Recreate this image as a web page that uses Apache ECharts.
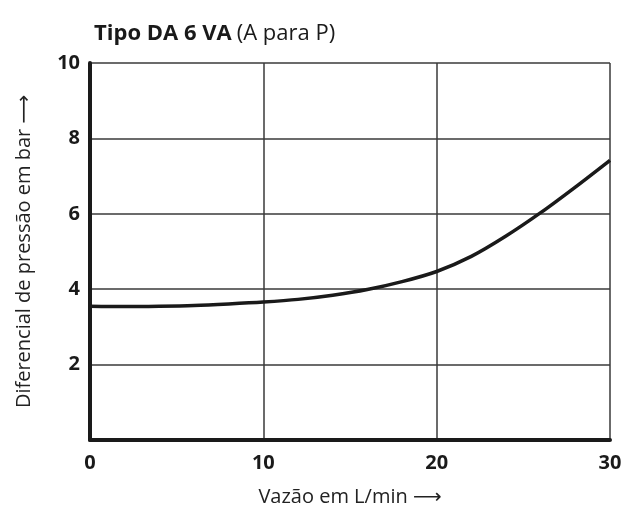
<!DOCTYPE html>
<html>
<head>
<meta charset="utf-8">
<script src="https://cdn.jsdelivr.net/npm/echarts@6/dist/echarts.min.js"></script>
<style>
  html, body { margin: 0; padding: 0; background: #fff; }
  #chart { width: 625px; height: 511px; }
</style>
</head>
<body>
<div id="chart"></div>
<script>
// Flow rate (L/min) and pressure differential (bar)
const flowRate = [0, 2, 4, 6, 8, 10, 12, 14, 16, 18, 20, 22, 24, 26, 28, 30];
const pressureDiff = [3.55, 3.54, 3.55, 3.57, 3.61, 3.66, 3.73, 3.84, 3.99, 4.20, 4.47, 4.87, 5.41, 6.03, 6.71, 7.42];
const xTicks = [0, 10, 20, 30];
const yTicks = [2, 4, 6, 8, 10];

const font = '"Open Sans", "DejaVu Sans", sans-serif';
const chart = echarts.init(document.getElementById('chart'));

chart.setOption({
  animation: false,
  backgroundColor: '#ffffff',
  title: {
    text: '{b|Tipo DA 6 VA} {r|(A para P)}',
    left: 89,
    top: 18,
    textStyle: {
      rich: {
        b: { fontFamily: font, fontWeight: 'bold', fontSize: 22, color: '#1a1a1a' },
        r: { fontFamily: font, fontWeight: 'normal', fontSize: 22, color: '#1a1a1a' }
      }
    }
  },
  grid: { left: 90, right: 15, top: 63, bottom: 71, outerBoundsMode: 'none', containLabel: false },
  xAxis: {
    type: 'value',
    min: 0, max: 30, interval: 10,
    name: 'Vazão em L/min ⟶',
    nameLocation: 'middle',
    nameGap: 47,
    nameTextStyle: { fontFamily: font, fontSize: 20, color: '#222' },
    axisLine: { show: true, onZero: false, lineStyle: { color: '#1a1a1a', width: 4 } },
    axisTick: { show: false },
    axisLabel: {
      margin: 13,
      fontFamily: font, fontWeight: 'bold', fontSize: 20, color: '#1a1a1a',
      formatter: v => xTicks.includes(v) ? String(v) : ''
    },
    splitLine: { show: true, lineStyle: { color: '#3a3a3a', width: 1.5 } }
  },
  yAxis: {
    type: 'value',
    min: 0, max: 10, interval: 2,
    name: 'Diferencial de pressão em bar ⟶',
    nameLocation: 'middle',
    nameRotate: 90,
    nameGap: 56,
    nameTextStyle: { fontFamily: font, fontSize: 20, color: '#222' },
    axisLine: { show: true, onZero: false, lineStyle: { color: '#1a1a1a', width: 4 } },
    axisTick: { show: false },
    axisLabel: {
      margin: 10,
      fontFamily: font, fontWeight: 'bold', fontSize: 20, color: '#1a1a1a',
      formatter: v => yTicks.includes(v) ? String(v) : ''
    },
    splitLine: { show: true, lineStyle: { color: '#3a3a3a', width: 1.5 } }
  },
  series: [{
    type: 'line',
    data: flowRate.map((x, i) => [x, pressureDiff[i]]),
    smooth: 0.3,
    showSymbol: false,
    lineStyle: { color: '#1a1a1a', width: 3.5 },
    z: 5
  }]
});
</script>
</body>
</html>
